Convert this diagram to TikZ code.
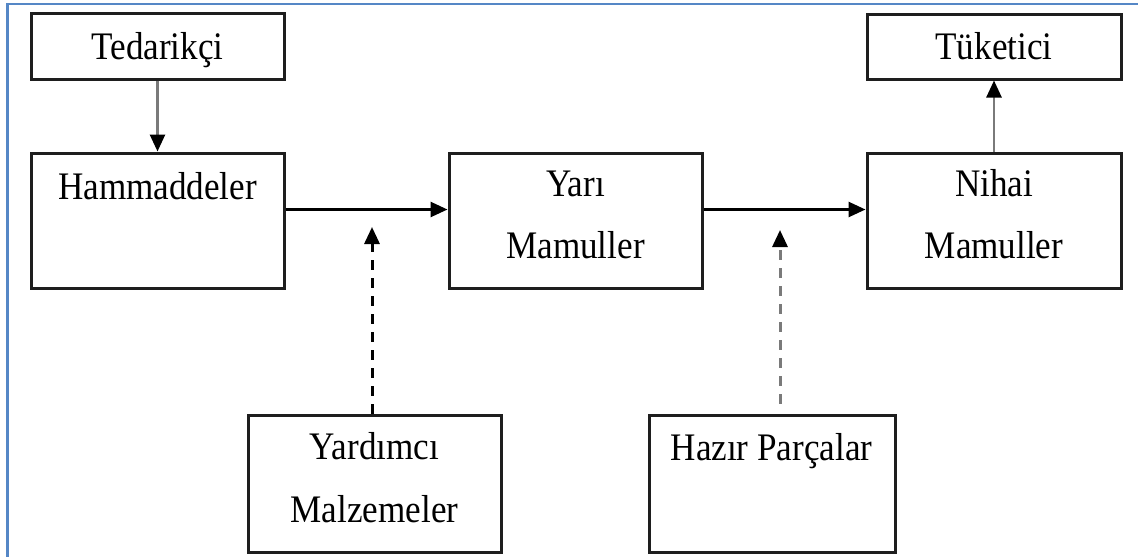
\documentclass[tikz,border=0pt]{standalone}
\usepackage{fontspec}
\setmainfont[FakeStretch=0.9]{Liberation Serif}
\usetikzlibrary{arrows.meta}
\definecolor{framecol}{HTML}{5587C6}
\definecolor{boxline}{HTML}{1E1E1E}
\definecolor{flowgray}{HTML}{7A7A7A}
\begin{document}
\begin{tikzpicture}[x=1pt,y=-1pt,
  stagebox/.style={draw=boxline,line width=3pt,rectangle,inner sep=0pt},
  lbl/.style={anchor=base,inner sep=0pt,font=\fontsize{39}{62}\selectfont},
  tip/.style={-{Triangle[length=17pt,width=15pt,color=black,fill=black]}},
  flow/.style={tip,line width=2.6pt,black},
  feed/.style={tip,line width=3pt,dash pattern=on 10pt off 8pt}
]
\useasboundingbox (0,0) rectangle (1138,557);

% frame
\draw[framecol,line width=2.4pt] (6,4) -- (1138,4);
\draw[framecol,line width=3pt] (7,4) -- (7,557);

% boxes
\node[stagebox,minimum width=253pt,minimum height=66pt] (ted) at (157.5,46) {};
\node[stagebox,minimum width=253pt,minimum height=135pt] (ham) at (157.5,220.5) {};
\node[stagebox,minimum width=253pt,minimum height=135pt] (yari) at (575.5,220.5) {};
\node[stagebox,minimum width=254pt,minimum height=135pt] (nih) at (994,220.5) {};
\node[stagebox,minimum width=254pt,minimum height=65pt] (tuk) at (994,46.5) {};
\node[stagebox,minimum width=253pt,minimum height=137pt] (yar) at (374.5,483.5) {};
\node[stagebox,minimum width=246pt,minimum height=137pt] (haz) at (772,483.5) {};

% labels
\node[lbl] (tedT) at (157.5,59) {Tedarikçi};
\node[lbl] (hamT) at (157.5,199) {Hammaddeler};
\node[lbl] (yariT1) at (575.5,196) {Yarı};
\node[lbl] (yariT2) at (575.5,258) {Mamuller};
\node[lbl] (nihT1) at (994,196) {Nihai};
\node[lbl] (nihT2) at (994,258) {Mamuller};
\node[lbl] (tukT) at (994,59) {Tüketici};
\node[lbl] (yarT1) at (374.5,459) {Yardımcı};
\node[lbl] (yarT2) at (374.5,522) {Malzemeler};
\node[lbl] (hazT) at (771.5,460) {Hazır Parçalar};

% feed targets below the main flow
\coordinate (f1) at (372,227);
\coordinate (f2) at (780,230);

% connectors
\draw[tip,line width=2.6pt,flowgray] (ted.south) -- (ham.north);
\draw[tip,line width=2.6pt,flowgray] (nih.north) -- (tuk.south);
\draw[flow] ([yshift=11pt]ham.east) -- ([yshift=11pt]yari.west);
\draw[flow] ([yshift=11pt]yari.east) -- ([yshift=11pt]nih.west);
\draw[feed,black] (yar.north -| f1) -- (f1);
\draw[feed,flowgray,shorten <=10pt] (haz.north -| f2) -- (f2);
\end{tikzpicture}
\end{document}
